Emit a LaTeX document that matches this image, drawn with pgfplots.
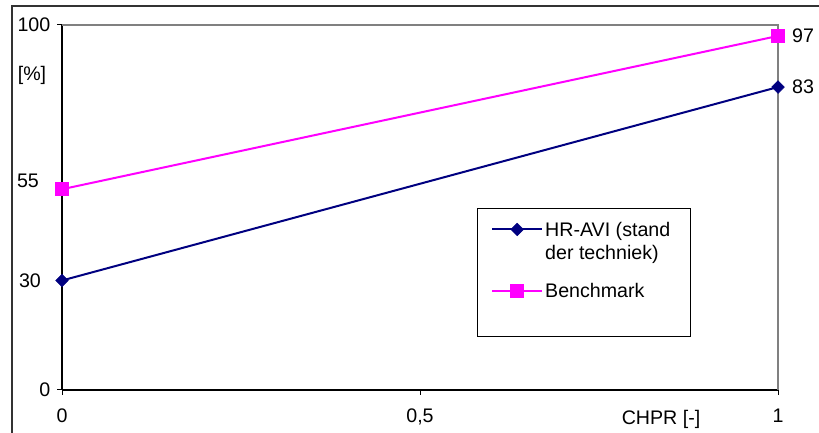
\documentclass[border=0pt]{standalone}
\usepackage{pgfplots}
\pgfplotsset{compat=1.18}
\usepackage{fontspec}
\setmainfont{Liberation Sans}
\definecolor{navyb}{RGB}{0,0,128}
\definecolor{mag}{RGB}{255,0,255}
\definecolor{framegray}{RGB}{50,50,50}
\definecolor{axgray}{RGB}{128,128,128}
\begin{document}
\fontsize{19.7}{23.4}\selectfont
\begin{tikzpicture}[x=1bp,y=1bp]
\useasboundingbox (0,0) rectangle (819,433);
\draw[line width=1.6bp, framegray] (12,0) -- (12,427) -- (819,427);
\begin{axis}[
  at={(62bp,43bp)}, anchor=south west,
  scale only axis, width=716bp, height=365bp,
  xmin=0, xmax=1, ymin=0, ymax=100,
  axis lines=left, axis line style={-, black, line width=1.2bp},
  xtick={0,0.5,1}, ytick={0,100},
  xticklabels={0,{0,5},1},
  xticklabel style={yshift=-7bp},
  tick align=outside, major tick length=5bp,
  tick style={black, line width=1bp},
  /pgf/number format/assume math mode=true,
  clip=false,
  legend style={at={(rel axis cs:0.5992,0.4713)}, anchor=north west,
    draw=none, fill=none, inner xsep=0bp, inner ysep=0bp,
    row sep=40bp, column sep=0bp,
    font={\fontsize{19.7}{23.4}\selectfont},
    cells={anchor=base west, font={\fontsize{19.7}{23.4}\selectfont}}},
  legend image code/.code={\draw[mark repeat=2,mark phase=2,#1] plot coordinates {(0bp,7bp) (25bp,7bp) (50bp,7bp)};},
]
\draw[axgray, line width=1.5bp] (rel axis cs:0,1) -- (rel axis cs:1,1) -- (rel axis cs:1,0);
\draw[black, line width=1bp] (rel axis cs:0.5796,0.4986) rectangle (rel axis cs:0.8771,0.1452);
\addplot[navyb, line width=2bp, mark=square*, mark size=4.5bp,
  mark options={rotate=45, fill=navyb, draw=navyb, line width=0.5bp}]
  coordinates {(0,30) (1,83)};
\addlegendentry{\begin{tabular}[t]{@{}l@{}}HR-AVI (stand\\der techniek)\end{tabular}}
\addplot[mag, line width=2bp, mark=square*, mark size=6.5bp,
  mark options={fill=mag, draw=mag, line width=0.5bp}]
  coordinates {(0,55) (1,97)};
\addlegendentry{Benchmark}
\node[xshift=-34bp, yshift=8bp] at (axis cs:0,55) {55};
\node[xshift=-32bp] at (axis cs:0,30) {30};
\node[xshift=25bp] at (axis cs:1,97) {97};
\node[xshift=25bp] at (axis cs:1,83) {83};
\node[xshift=-30bp, yshift=-50bp] at (rel axis cs:0,1) {[\%]};
\node[yshift=-29bp] at (axis cs:0.8366,0) {CHPR [-]};
\end{axis}
\end{tikzpicture}
\end{document}
